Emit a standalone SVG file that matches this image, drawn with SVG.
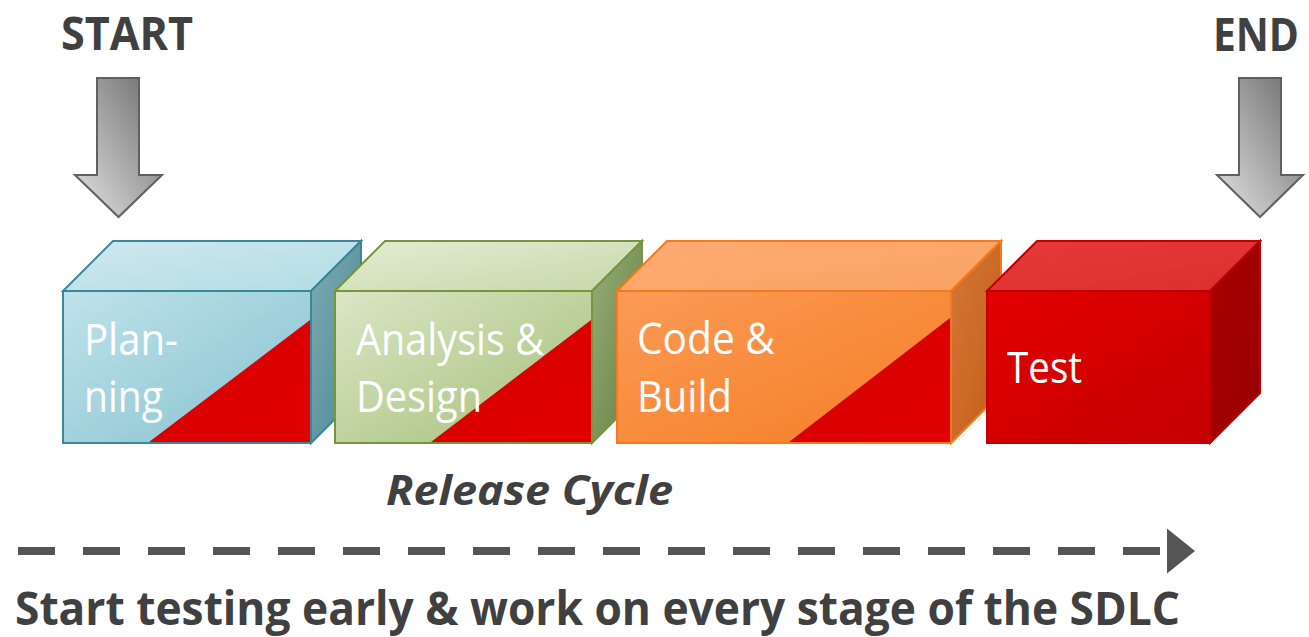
<svg xmlns="http://www.w3.org/2000/svg" width="1309" height="637" viewBox="0 0 1309 637">
  <defs>
    <!-- Planning (blue) -->
    <linearGradient id="blueFront" x1="0" y1="0" x2="1" y2="1">
      <stop offset="0" stop-color="#bfe2ea"/>
      <stop offset="1" stop-color="#86c2d0"/>
    </linearGradient>
    <linearGradient id="blueTop" x1="0" y1="0" x2="1" y2="1">
      <stop offset="0" stop-color="#cfe8ee"/>
      <stop offset="1" stop-color="#b2dde5"/>
    </linearGradient>
    <linearGradient id="blueSide" x1="0" y1="0" x2="1" y2="1">
      <stop offset="0" stop-color="#7eabb3"/>
      <stop offset="1" stop-color="#4a8794"/>
    </linearGradient>
    <!-- Analysis (green) -->
    <linearGradient id="greenFront" x1="0" y1="0" x2="1" y2="1">
      <stop offset="0" stop-color="#dbe6c6"/>
      <stop offset="1" stop-color="#a3bf78"/>
    </linearGradient>
    <linearGradient id="greenTop" x1="0" y1="0" x2="1" y2="1">
      <stop offset="0" stop-color="#e4ecd5"/>
      <stop offset="1" stop-color="#c6d8a8"/>
    </linearGradient>
    <linearGradient id="greenSide" x1="0" y1="0" x2="1" y2="1">
      <stop offset="0" stop-color="#98ad7a"/>
      <stop offset="1" stop-color="#647e3e"/>
    </linearGradient>
    <!-- Code (orange) -->
    <linearGradient id="orangeFront" x1="0" y1="0" x2="1" y2="1">
      <stop offset="0" stop-color="#fb9a56"/>
      <stop offset="1" stop-color="#f57e24"/>
    </linearGradient>
    <linearGradient id="orangeTop" x1="0" y1="0" x2="1" y2="1">
      <stop offset="0" stop-color="#fdab72"/>
      <stop offset="1" stop-color="#fba264"/>
    </linearGradient>
    <linearGradient id="orangeSide" x1="0" y1="0" x2="1" y2="1">
      <stop offset="0" stop-color="#d47738"/>
      <stop offset="1" stop-color="#c45d16"/>
    </linearGradient>
    <!-- Test (red) -->
    <linearGradient id="redFront" x1="0" y1="0" x2="1" y2="1">
      <stop offset="0" stop-color="#e40000"/>
      <stop offset="1" stop-color="#c40000"/>
    </linearGradient>
    <linearGradient id="redTop" x1="0" y1="0" x2="1" y2="1">
      <stop offset="0" stop-color="#e63a3a"/>
      <stop offset="1" stop-color="#dc3030"/>
    </linearGradient>
    <linearGradient id="redSide" x1="0" y1="0" x2="1" y2="1">
      <stop offset="0" stop-color="#aa0000"/>
      <stop offset="1" stop-color="#980000"/>
    </linearGradient>
    <!-- red testing wedge -->
    <linearGradient id="wedge" x1="0" y1="0" x2="1" y2="1">
      <stop offset="0" stop-color="#d40000"/>
      <stop offset="1" stop-color="#e20000"/>
    </linearGradient>
    <!-- grey block arrows -->
    <linearGradient id="greyArrow" x1="1" y1="0" x2="0" y2="1">
      <stop offset="0" stop-color="#6a6a6a"/>
      <stop offset="1" stop-color="#e4e4e4"/>
    </linearGradient>
    <marker id="head" viewBox="0 0 28 45" refX="0" refY="22.5" markerUnits="userSpaceOnUse" markerWidth="28" markerHeight="45" orient="auto">
      <path d="M0,0 L28,22.5 L0,45 Z" fill="#555555"/>
    </marker>
    <style>
      .label { font-family: "Open Sans", "Liberation Sans", sans-serif; font-size: 43px; fill: #ffffff; }
      .title { font-family: "Open Sans", "Liberation Sans", sans-serif; font-weight: bold; fill: #404040; }
      .edge { stroke-width: 2; stroke-linejoin: miter; }
      .block { fill: url(#greyArrow); stroke: #606060; stroke-width: 2; }
    </style>
  </defs>

  <rect width="1309" height="637" fill="#ffffff"/>

  <!-- headings -->
  <text class="title" x="61" y="50" font-size="46" textLength="132" lengthAdjust="spacingAndGlyphs">START</text>
  <text class="title" x="1213" y="51" font-size="46" textLength="86" lengthAdjust="spacingAndGlyphs">END</text>

  <!-- stage: Planning -->
  <g id="planning">
    <polygon class="edge" points="63,291 113,241 361,241 311,291" fill="url(#blueTop)" stroke="#3b8797"/>
    <polygon class="edge" points="311,291 361,241 361,393 311,443" fill="url(#blueSide)" stroke="#3b8797"/>
    <rect class="edge" x="63" y="291" width="248" height="152" fill="url(#blueFront)" stroke="#3b8797"/>
    <polygon points="149,442 310,320 310,442" fill="url(#wedge)"/>
    <text class="label" x="84" y="355" textLength="94" lengthAdjust="spacingAndGlyphs">Plan-</text>
    <text class="label" x="84" y="412" textLength="79" lengthAdjust="spacingAndGlyphs">ning</text>
  </g>

  <!-- stage: Analysis & Design -->
  <g id="analysis">
    <polygon class="edge" points="335,291 385,241 642,241 592,291" fill="url(#greenTop)" stroke="#77953f"/>
    <polygon class="edge" points="592,291 642,241 642,393 592,443" fill="url(#greenSide)" stroke="#77953f"/>
    <rect class="edge" x="335" y="291" width="257" height="152" fill="url(#greenFront)" stroke="#77953f"/>
    <polygon points="431,442 591,320 591,442" fill="url(#wedge)"/>
    <text class="label" x="356" y="355" textLength="188" lengthAdjust="spacingAndGlyphs">Analysis &amp;</text>
    <text class="label" x="356" y="412" textLength="126" lengthAdjust="spacingAndGlyphs">Design</text>
  </g>

  <!-- stage: Code & Build -->
  <g id="code">
    <polygon class="edge" points="617,291 667,241 1001,241 951,291" fill="url(#orangeTop)" stroke="#f47920"/>
    <polygon class="edge" points="951,291 1001,241 1001,393 951,443" fill="url(#orangeSide)" stroke="#f47920"/>
    <rect class="edge" x="617" y="291" width="334" height="152" fill="url(#orangeFront)" stroke="#f47920"/>
    <polygon points="789,442 950,318 950,442" fill="url(#wedge)"/>
    <text class="label" x="637" y="354" textLength="138" lengthAdjust="spacingAndGlyphs">Code &amp;</text>
    <text class="label" x="637" y="412" textLength="95" lengthAdjust="spacingAndGlyphs">Build</text>
  </g>

  <!-- stage: Test -->
  <g id="test">
    <polygon class="edge" points="987,291 1037,241 1260,241 1210,291" fill="url(#redTop)" stroke="#c00000"/>
    <polygon class="edge" points="1210,291 1260,241 1260,393 1210,443" fill="url(#redSide)" stroke="#c00000"/>
    <rect class="edge" x="987" y="291" width="223" height="152" fill="url(#redFront)" stroke="#c00000"/>
    <text class="label" x="1007" y="383" textLength="75" lengthAdjust="spacingAndGlyphs">Test</text>
  </g>

  <!-- connectors: start/end block arrows and the release timeline -->
  <g id="connectors">
    <polygon class="block" points="97,78 139,78 139,175 162,175 118.5,217 75,175 97,175"/>
    <polygon class="block" points="1239,78 1281,78 1281,175 1303,175 1260,217 1217,175 1239,175"/>
    <line x1="18" y1="551" x2="1167" y2="551" stroke="#555555" stroke-width="8" stroke-dasharray="37 28" marker-end="url(#head)"/>
  </g>

  <text class="title" x="386" y="505" font-size="42" font-style="italic" textLength="287" lengthAdjust="spacingAndGlyphs">Release Cycle</text>
  <text class="title" x="15" y="625" font-size="46" textLength="1165" lengthAdjust="spacingAndGlyphs">Start testing early &amp; work on every stage of the SDLC</text>
</svg>
